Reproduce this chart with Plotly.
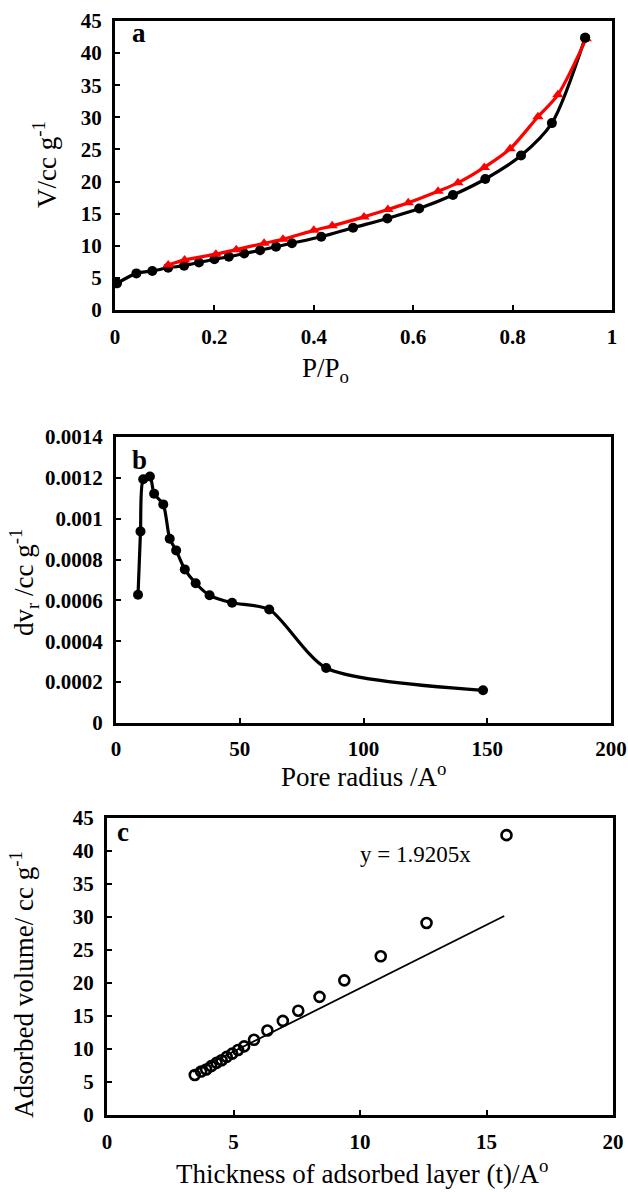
import plotly.graph_objects as go

# ---------- Panel a: N2 adsorption / desorption isotherm ----------
ads_p = [0.004, 0.043, 0.075, 0.107, 0.139, 0.169, 0.200, 0.229, 0.260, 0.292,
         0.324, 0.356, 0.415, 0.479, 0.548, 0.612, 0.680, 0.745, 0.817, 0.879, 0.946]
ads_v = [4.15, 5.70, 6.07, 6.58, 6.90, 7.40, 7.90, 8.30, 8.80, 9.30,
         9.85, 10.40, 11.40, 12.80, 14.26, 15.80, 17.90, 20.40, 24.05, 29.10, 42.40]
des_p = [0.107, 0.140, 0.203, 0.244, 0.300, 0.338, 0.400, 0.437, 0.501, 0.549,
         0.590, 0.650, 0.690, 0.743, 0.795, 0.851, 0.891, 0.948]
des_v = [7.00, 7.80, 8.70, 9.40, 10.40, 11.00, 12.40, 13.10, 14.50, 15.65,
         16.70, 18.50, 19.80, 22.20, 25.10, 30.10, 33.50, 42.25]

# ---------- Panel b: pore size distribution ----------
pore_r = [8.9, 9.9, 11.0, 13.7, 15.4, 19.1, 21.7, 24.3, 27.8, 32.2, 37.8, 46.9, 61.9, 84.9, 148.3]
dv_r = [0.000628, 0.000938, 0.001193, 0.001207, 0.001122, 0.001070, 0.000902, 0.000845,
        0.000752, 0.000684, 0.000625, 0.000589, 0.000556, 0.000269, 0.000160]

# ---------- Panel c: t-plot ----------
t_thick = [3.47, 3.72, 3.92, 4.12, 4.33, 4.53, 4.73, 4.95, 5.18, 5.42,
           5.81, 6.34, 6.95, 7.56, 8.40, 9.38, 10.82, 12.63, 15.79]
t_vol = [6.07, 6.58, 6.90, 7.40, 7.90, 8.30, 8.80, 9.30, 9.85, 10.40,
         11.40, 12.80, 14.26, 15.80, 17.90, 20.40, 24.05, 29.10, 42.40]
fit_slope = 1.9205
fit_t = [3.40, 15.70]

# tick labels
a_xticks = [0, 0.2, 0.4, 0.6, 0.8, 1]
a_xticktext = ["0", "0.2", "0.4", "0.6", "0.8", "1"]
a_yticks = [0, 5, 10, 15, 20, 25, 30, 35, 40, 45]
b_xticks = [0, 50, 100, 150, 200]
b_yticks = [0, 0.0002, 0.0004, 0.0006, 0.0008, 0.001, 0.0012, 0.0014]
b_yticktext = ["0", "0.0002", "0.0004", "0.0006", "0.0008", "0.001", "0.0012", "0.0014"]
c_xticks = [0, 5, 10, 15, 20]
c_yticks = [0, 5, 10, 15, 20, 25, 30, 35, 40, 45]

W, H = 628, 1192
SERIF = "Liberation Serif, Times New Roman, serif"
tickfont = dict(family=SERIF, size=21, color="black", weight="bold")
titlefont = dict(family=SERIF, size=27, color="black")

fig = go.Figure()

fig.add_trace(go.Scatter(x=ads_p, y=ads_v, mode="lines+markers",
                         line=dict(color="black", width=3.2, shape="spline", smoothing=0.8),
                         marker=dict(symbol="circle", size=10, color="black"),
                         xaxis="x", yaxis="y", showlegend=False))
fig.add_trace(go.Scatter(x=des_p, y=des_v, mode="lines+markers",
                         line=dict(color="#FF0000", width=3.2, shape="spline", smoothing=0.8),
                         marker=dict(symbol="triangle-up", size=10, color="#FF0000"),
                         xaxis="x", yaxis="y", showlegend=False))
# redraw adsorption end point on top
fig.add_trace(go.Scatter(x=ads_p[-1:], y=ads_v[-1:], mode="markers",
                         marker=dict(symbol="circle", size=10, color="black"),
                         xaxis="x", yaxis="y", showlegend=False))

fig.add_trace(go.Scatter(x=pore_r, y=dv_r, mode="lines+markers",
                         line=dict(color="black", width=3.2, shape="spline", smoothing=0.7),
                         marker=dict(symbol="circle", size=10, color="black"),
                         xaxis="x2", yaxis="y2", showlegend=False))

fig.add_trace(go.Scatter(x=fit_t, y=[fit_slope * t for t in fit_t], mode="lines",
                         line=dict(color="black", width=1.8),
                         xaxis="x3", yaxis="y3", showlegend=False))
fig.add_trace(go.Scatter(x=t_thick, y=t_vol, mode="markers",
                         marker=dict(symbol="circle-open", size=10, color="black",
                                     line=dict(width=2.6, color="black")),
                         xaxis="x3", yaxis="y3", showlegend=False))


def px_x(p):
    return p / W


def px_y(p):
    return 1 - p / H


axis_common = dict(showline=True, linecolor="black", linewidth=3, mirror=True,
                   ticks="inside", ticklen=5, tickwidth=2, tickcolor="black",
                   showgrid=False, zeroline=False, tickfont=tickfont, automargin=False)

fig.update_layout(
    width=W, height=H, autosize=False,
    margin=dict(l=0, r=0, t=0, b=0, pad=0),
    paper_bgcolor="white", plot_bgcolor="white",
    xaxis=dict(domain=[px_x(115), px_x(612)], range=[0, 1], anchor="y",
               tickvals=a_xticks, ticktext=a_xticktext, ticklabelstandoff=6, **axis_common),
    yaxis=dict(domain=[px_y(310), px_y(21)], range=[0, 45], anchor="x",
               tickvals=a_yticks, ticklabelstandoff=6, **axis_common),
    xaxis2=dict(domain=[px_x(116), px_x(611)], range=[0, 200], anchor="y2",
                tickvals=b_xticks, ticklabelstandoff=5, **axis_common),
    yaxis2=dict(domain=[px_y(723), px_y(437)], range=[0, 0.0014], anchor="x2",
                tickvals=b_yticks, ticktext=b_yticktext, ticklabelstandoff=6, **axis_common),
    xaxis3=dict(domain=[px_x(107), px_x(613)], range=[0, 20], anchor="y3",
                tickvals=c_xticks, ticklabelstandoff=6, **axis_common),
    yaxis3=dict(domain=[px_y(1115), px_y(818)], range=[0, 45], anchor="x3",
                tickvals=c_yticks, ticklabelstandoff=6, **axis_common),
)

annotations = [
    # panel letters
    dict(text="<b>a</b>", x=px_x(130), y=px_y(33), xanchor="left", yanchor="middle",
         font=dict(family=SERIF, size=27, color="black")),
    dict(text="<b>b</b>", x=px_x(130), y=px_y(460), xanchor="left", yanchor="middle",
         font=dict(family=SERIF, size=27, color="black")),
    dict(text="<b>c</b>", x=px_x(115), y=px_y(832), xanchor="left", yanchor="middle",
         font=dict(family=SERIF, size=27, color="black")),
    # axis titles
    dict(text="V/cc g<sup>-1</sup>", x=px_x(45), y=px_y(165), textangle=-90,
         xanchor="center", yanchor="middle", font=titlefont),
    dict(text="P/P<sub>o</sub>", x=px_x(325), y=px_y(370),
         xanchor="center", yanchor="middle", font=titlefont),
    dict(text="dv<sub>r</sub> /cc g<sup>-1</sup>", x=px_x(24), y=px_y(582), textangle=-90,
         xanchor="center", yanchor="middle", font=titlefont),
    dict(text="Pore radius /A<sup>o</sup>", x=px_x(363), y=px_y(775),
         xanchor="center", yanchor="middle", font=titlefont),
    dict(text="Adsorbed volume/ cc g<sup>-1</sup>", x=px_x(22), y=px_y(985), textangle=-90,
         xanchor="center", yanchor="middle", font=titlefont),
    dict(text="Thickness of adsorbed layer (t)/A<sup>o</sup>", x=px_x(362), y=px_y(1172),
         xanchor="center", yanchor="middle", font=titlefont),
    # fit equation
    dict(text="y = 1.9205x", x=px_x(415), y=px_y(855), xanchor="center", yanchor="middle",
         font=dict(family=SERIF, size=23, color="black")),
]
for a in annotations:
    a.update(xref="paper", yref="paper", showarrow=False)
fig.update_layout(annotations=annotations)

fig.write_html("out.html", config={"responsive": False, "displayModeBar": False},
               post_script="document.body.style.margin='0px';")
